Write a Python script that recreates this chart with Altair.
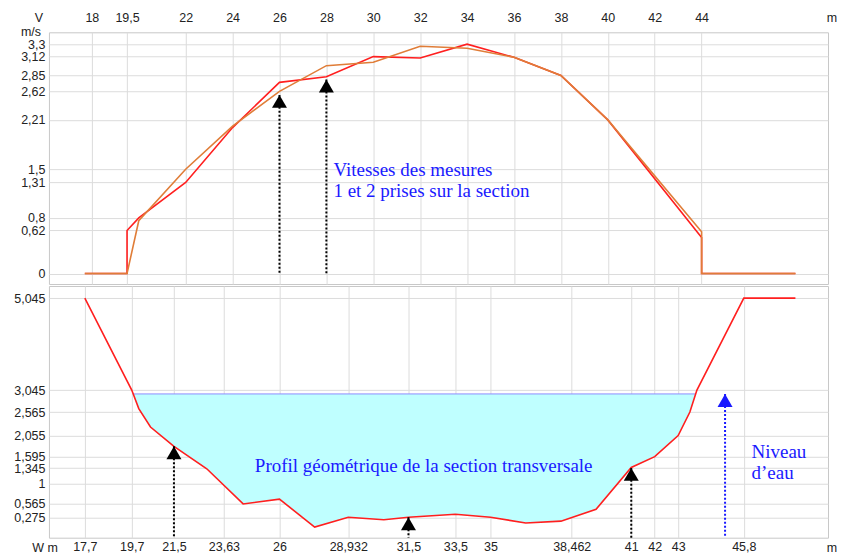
import altair as alt
import pandas as pd
import numpy as np

# ---------------- data ----------------
# top panel: velocities of measurements 1 and 2 (m/s) vs position (m)
v1_x = [17.7, 19.5, 19.5, 20, 22, 24, 26, 28, 30, 32, 34, 36, 38, 40, 44, 44, 48]
v1_y = [0, 0, 0.62, 0.8, 1.31, 2.1, 2.75, 2.83, 3.12, 3.1, 3.3, 3.11, 2.85, 2.21, 0.52, 0, 0]
v2_x = [17.7, 19.5, 20, 22, 24, 26, 28, 30, 32, 34, 36, 38, 40, 44, 44, 48]
v2_y = [0, 0, 0.76, 1.5, 2.12, 2.62, 2.99, 3.04, 3.27, 3.24, 3.11, 2.85, 2.21, 0.6, 0, 0]

top_xticks = [18, 19.5, 22, 24, 26, 28, 30, 32, 34, 36, 38, 40, 42, 44]
top_yticks = [0, 0.62, 0.8, 1.31, 1.5, 2.21, 2.62, 2.85, 3.12, 3.3]

# bottom panel: cross-section profile
prof_x = [17.7, 19.7, 20.0, 20.5, 21.5, 22.9, 24.45, 26, 27.5, 28.932, 30.45, 31.5,
          33.5, 35, 36.5, 38.0, 39.5, 41, 42, 43, 43.5, 43.8, 45.8, 48.0]
prof_y = [5.045, 3.045, 2.64, 2.24, 1.82, 1.33, 0.565, 0.67, 0.06, 0.275, 0.22, 0.275,
          0.34, 0.275, 0.15, 0.19, 0.45, 1.36, 1.595, 2.055, 2.565, 3.045, 5.045, 5.045]
water_level = 2.96

bot_xticks = [17.7, 19.7, 21.5, 23.63, 26, 28.932, 31.5, 33.5, 35, 38.462, 41, 42, 43, 45.8]
bot_yticks = [0.275, 0.565, 1, 1.345, 1.595, 2.055, 2.565, 3.045, 5.045]

# arrows (x, tip value)
top_arrow_x = [26, 28]
top_arrow_y = [2.57, 2.79]
bot_arrow_x = [21.5, 31.5, 41]
bot_arrow_y = [1.82, 0.275, 1.35]
blue_arrow_x = [45]
blue_arrow_y = [water_level]

# ---------------- layout constants ----------------
W = 780
H1 = 252
H2 = 252
X_DOM = [16.17, 49.39]
Y1_DOM = [-0.15, 3.47]
Y2_DOM = [-0.17, 5.31]

RED = "#ff1f1f"
ORANGE = "#e07d38"
BLUE = "#1a1aff"
FS = 12.5
LAB = "replace(toString(datum.value), '.', ',')"
AX = dict(labelFont="Liberation Sans", labelFontSize=FS, labelColor="#222",
          gridColor="#dcdcdc", gridWidth=1, domain=False, ticks=False, tickSize=0, title=None,
          grid=True, labelExpr=LAB, labelOverlap=False, labelBound=False, labelFlush=False)

# ---------------- top panel ----------------
X1 = alt.X("x:Q", scale=alt.Scale(domain=X_DOM, nice=False, zero=False),
           axis=alt.Axis(orient="top", values=top_xticks, labelPadding=8, **AX))
Y1 = alt.Y("y:Q", scale=alt.Scale(domain=Y1_DOM, nice=False, zero=False),
           axis=alt.Axis(values=top_yticks, minExtent=40, maxExtent=40, labelPadding=4, **AX))

df_v1 = pd.DataFrame({"x": v1_x, "y": v1_y, "i": range(len(v1_x))})
df_v2 = pd.DataFrame({"x": v2_x, "y": v2_y, "i": range(len(v2_x))})

line1 = alt.Chart(df_v1).mark_line(color=RED, strokeWidth=1.6).encode(x=X1, y=Y1, order="i:Q")
line2 = alt.Chart(df_v2).mark_line(color=ORANGE, strokeWidth=1.6).encode(x=X1, y=Y1, order="i:Q")

df_ta = pd.DataFrame({"x": top_arrow_x, "y": top_arrow_y, "y2": [0] * len(top_arrow_x)})
top_rules = alt.Chart(df_ta).mark_rule(color="black", strokeDash=[2, 2], strokeWidth=2).encode(
    x=X1, y=Y1, y2="y2:Q")
top_tri = alt.Chart(df_ta).mark_point(shape="triangle-up", filled=True, size=225, opacity=1,
                                      color="black", yOffset=6.5).encode(x=X1, y=Y1)

df_tt = pd.DataFrame({"x": [28.3, 28.3], "y": [1.40, 1.095],
                      "t": ["Vitesses des mesures", "1 et 2 prises sur la section"]})
top_text = alt.Chart(df_tt).mark_text(align="left", baseline="alphabetic", font="Liberation Serif",
                                      fontSize=19, color=BLUE).encode(x=X1, y=Y1, text="t:N")

df_lab1 = pd.DataFrame({"px": [-10, -18, 784], "py": [-14, 0, -14], "t": ["V", "m/s", "m"]})
top_labels = alt.Chart(df_lab1).mark_text(font="Liberation Sans", fontSize=FS, color="#222",
                                          baseline="middle").encode(
    x=alt.X("px:Q", scale=None), y=alt.Y("py:Q", scale=None), text="t:N")

top = alt.layer(line1, line2, top_rules, top_tri, top_text, top_labels).properties(width=W, height=H1)

# ---------------- bottom panel ----------------
X2 = alt.X("x:Q", scale=alt.Scale(domain=X_DOM, nice=False, zero=False),
           axis=alt.Axis(orient="bottom", values=bot_xticks, labelPadding=3, **AX))
Y2 = alt.Y("y:Q", scale=alt.Scale(domain=Y2_DOM, nice=False, zero=False),
           axis=alt.Axis(values=bot_yticks, minExtent=40, maxExtent=40, labelPadding=4, **AX))

pxa = np.array(prof_x, dtype=float)
pya = np.array(prof_y, dtype=float)
below = pya < water_level
first = int(np.argmax(below))
last = len(below) - 1 - int(np.argmax(below[::-1]))


def cross(i0, i1):
    x0, y0, x1_, y1_ = pxa[i0], pya[i0], pxa[i1], pya[i1]
    return x0 + (water_level - y0) * (x1_ - x0) / (y1_ - y0)


xl = cross(first - 1, first)
xr = cross(last, last + 1)
fill_x = [xl] + list(pxa[first:last + 1]) + [xr]
fill_y = [water_level] + list(pya[first:last + 1]) + [water_level]
df_fill = pd.DataFrame({"x": fill_x, "y": fill_y, "y2": [water_level] * len(fill_x)})

fill = alt.Chart(df_fill).mark_area(color="#bfffff", opacity=1).encode(x=X2, y=Y2, y2="y2:Q")
df_wl = pd.DataFrame({"x": [xl], "x2": [xr], "y": [water_level]})
wline = alt.Chart(df_wl).mark_rule(color="#8c8cff", strokeWidth=1).encode(x=X2, x2="x2:Q", y=Y2)

df_prof = pd.DataFrame({"x": prof_x, "y": prof_y, "i": range(len(prof_x))})
prof = alt.Chart(df_prof).mark_line(color=RED, strokeWidth=1.6).encode(x=X2, y=Y2, order="i:Q")

df_ba = pd.DataFrame({"x": bot_arrow_x, "y": bot_arrow_y, "y2": [Y2_DOM[0]] * len(bot_arrow_x)})
bot_rules = alt.Chart(df_ba).mark_rule(color="black", strokeDash=[2, 2], strokeWidth=2).encode(
    x=X2, y=Y2, y2="y2:Q")
bot_tri = alt.Chart(df_ba).mark_point(shape="triangle-up", filled=True, size=225, opacity=1,
                                      color="black", yOffset=6.5).encode(x=X2, y=Y2)

df_bb = pd.DataFrame({"x": blue_arrow_x, "y": blue_arrow_y, "y2": [Y2_DOM[0]]})
blue_rule = alt.Chart(df_bb).mark_rule(color=BLUE, strokeDash=[2, 2], strokeWidth=2).encode(
    x=X2, y=Y2, y2="y2:Q")
blue_tri = alt.Chart(df_bb).mark_point(shape="triangle-up", filled=True, size=225, opacity=1,
                                       color=BLUE, yOffset=6.5).encode(x=X2, y=Y2)

df_bt = pd.DataFrame({"x": [24.95, 46.13, 46.13], "y": [1.264, 1.555, 1.10],
                      "t": ["Profil géométrique de la section transversale", "Niveau", "d’eau"]})
bot_text = alt.Chart(df_bt).mark_text(align="left", baseline="alphabetic", font="Liberation Serif",
                                      fontSize=19, color=BLUE).encode(x=X2, y=Y2, text="t:N")

df_lab2 = pd.DataFrame({"px": [-4, 784], "py": [H2 + 10, H2 + 10], "t": ["W m", "m"]})
bot_labels = alt.Chart(df_lab2).mark_text(font="Liberation Sans", fontSize=FS, color="#222",
                                          baseline="middle").encode(
    x=alt.X("px:Q", scale=None), y=alt.Y("py:Q", scale=None), text="t:N")

bottom = alt.layer(fill, wline, prof, bot_rules, bot_tri, blue_rule, blue_tri, bot_text,
                   bot_labels).properties(width=W, height=H2)

chart = alt.vconcat(top, bottom, spacing=0).properties(
    padding={"left": 0, "top": 2, "right": 0, "bottom": 0}
).configure(background="white").configure_view(stroke="#c8c8c8", strokeWidth=1)

chart.save("out.html", embed_options={"renderer": "svg", "actions": False})
